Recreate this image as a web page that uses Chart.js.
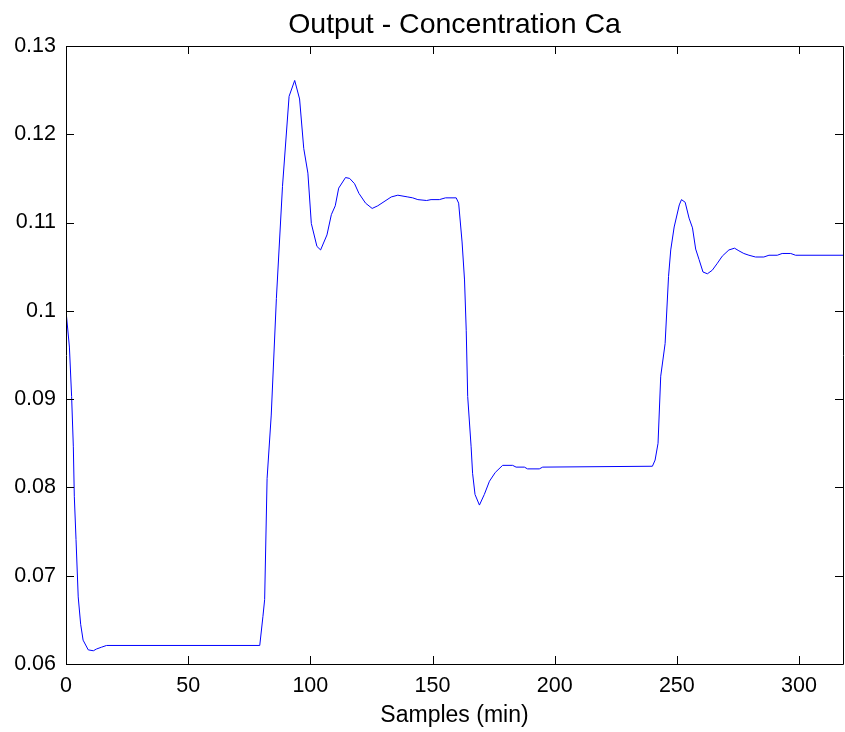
<!DOCTYPE html>
<html>
<head>
<meta charset="utf-8">
<title>Output - Concentration Ca</title>
<script src="https://cdn.jsdelivr.net/npm/chart.js@4/dist/chart.umd.min.js"></script>
<style>
  html, body { margin: 0; padding: 0; background: #fff; }
  #wrap { width: 845px; height: 732px; }
</style>
</head>
<body>
<div id="wrap"><canvas id="ca-chart" width="845" height="732"></canvas></div>
<script>
// ------------------------------------------------------------
// Data
// ------------------------------------------------------------
const chartTitle = "Output - Concentration Ca";
const sampleTimes = [
  0, 1.4, 2.3, 3.0, 3.4, 4.1, 5.0, 6.0, 7.0, 9.1, 11.2, 12.5, 14.5, 16.6,
  79.3, 80.6, 81.3, 82.3, 84.0, 86.1, 88.6, 91.3, 93.6, 95.6, 97.3, 99.0,
  100.4, 102.7, 104.2, 106.8, 108.6, 110.2, 111.6, 114.4, 116.1, 118.1, 119.9,
  122.6, 125.3, 127.6, 133.1, 135.8, 139.9, 141.9, 144.0, 147.6, 149.4, 152.8,
  155.3, 159.7, 160.7, 162.1, 163.1, 163.8, 164.4, 165.8, 166.4, 167.4, 169.2,
  171.2, 173.3, 175.7, 178.7, 182.8, 184.2, 187.6, 188.9, 193.7, 195.1,
  240.0, 241.1, 242.3, 243.4, 245.2, 246.6, 247.5, 248.9, 251.0, 251.9, 253.4,
  255.0, 256.4, 257.7, 259.1, 260.7, 262.5, 264.5, 266.6, 268.6, 271.3, 273.6,
  275.4, 277.4, 279.5, 282.2, 285.6, 287.7, 291.1, 293.1, 296.6, 298.6, 318
];
const concentrationCa = [
  0.1000, 0.0959, 0.0903, 0.0846, 0.0790, 0.0741, 0.0676, 0.0645, 0.0627, 0.0616, 0.0615, 0.0617, 0.0619, 0.0621,
  0.0621, 0.0654, 0.0673, 0.0810, 0.0882, 0.1014, 0.1141, 0.1243, 0.1261, 0.1240, 0.1184, 0.1156,
  0.1099, 0.1073, 0.1069, 0.1086, 0.1109, 0.1119, 0.1139, 0.1151, 0.1150, 0.1144, 0.1133,
  0.1122, 0.1116, 0.1119, 0.1129, 0.1131, 0.1129, 0.1128, 0.1126, 0.1125, 0.1126, 0.1126,
  0.1128, 0.1128, 0.1122, 0.1078, 0.1035, 0.0978, 0.0903, 0.0846, 0.0816, 0.0792, 0.0780,
  0.0792, 0.0807, 0.0817, 0.0825, 0.0825, 0.0823, 0.0823, 0.0821, 0.0821, 0.0823,
  0.0824, 0.0831, 0.0850, 0.0926, 0.0963, 0.1039, 0.1069, 0.1095, 0.1120, 0.1126, 0.1123,
  0.1105, 0.1094, 0.1070, 0.1058, 0.1044, 0.1042, 0.1046, 0.1054, 0.1062, 0.1069, 0.1071,
  0.1068, 0.1065, 0.1063, 0.1061, 0.1061, 0.1063, 0.1063, 0.1065, 0.1065, 0.1063, 0.1063
];
const xTicks = [0, 50, 100, 150, 200, 250, 300];
const yTicks = [0.06, 0.07, 0.08, 0.09, 0.1, 0.11, 0.12, 0.13];

const FONT = "'Liberation Sans', Arial, Helvetica, sans-serif";

// ------------------------------------------------------------
// MATLAB-like box with inward ticks, title centred on the axes
// ------------------------------------------------------------
const boxAxes = {
  id: "boxAxes",
  afterDatasetsDraw(chart) {
    const { ctx, chartArea: a, scales } = chart;
    const len = 8;
    ctx.save();
    ctx.strokeStyle = "#000";
    ctx.lineWidth = 1;
    ctx.beginPath();
    ctx.rect(Math.round(a.left) + 0.5, Math.round(a.top) + 0.5,
             Math.round(a.right - a.left), Math.round(a.bottom - a.top));
    xTicks.forEach(v => {
      const px = Math.round(scales.x.getPixelForValue(v)) + 0.5;
      ctx.moveTo(px, a.bottom); ctx.lineTo(px, a.bottom - len);
      ctx.moveTo(px, a.top);    ctx.lineTo(px, a.top + len);
    });
    yTicks.forEach(v => {
      const py = Math.round(scales.y.getPixelForValue(v)) + 0.5;
      ctx.moveTo(a.left, py);  ctx.lineTo(a.left + len, py);
      ctx.moveTo(a.right, py); ctx.lineTo(a.right - len, py);
    });
    ctx.stroke();

    // title
    ctx.fillStyle = "#000";
    ctx.font = "28.5px " + FONT;
    ctx.textAlign = "center";
    ctx.textBaseline = "alphabetic";
    ctx.fillText(chartTitle, (a.left + a.right) / 2, 33);
    ctx.restore();
  }
};

const points = sampleTimes.map((t, i) => ({ x: t, y: concentrationCa[i] }));

new Chart(document.getElementById("ca-chart"), {
  type: "line",
  data: {
    datasets: [{
      data: points,
      borderColor: "#0000ff",
      borderWidth: 1,
      pointRadius: 0,
      tension: 0,
      fill: false,
    }],
  },
  options: {
    responsive: false,
    animation: false,
    devicePixelRatio: 1,
    layout: { padding: { top: 46, right: 2, bottom: 0, left: 0 } },
    plugins: {
      legend: { display: false },
      tooltip: { enabled: false },
      title: { display: false },
    },
    scales: {
      x: {
        type: "linear",
        min: 0,
        max: 318,
        grid: { display: false, drawTicks: false },
        border: { display: false },
        afterBuildTicks: s => { s.ticks = xTicks.map(v => ({ value: v })); },
        afterFit: s => { s.height = 68; },
        ticks: {
          color: "#000",
          padding: 9,
          maxRotation: 0,
          font: { family: FONT, size: 21.5 },
          callback: v => String(v),
        },
        title: {
          display: true,
          text: "Samples (min)",
          color: "#000",
          font: { family: FONT, size: 23 },
          padding: { top: 0, bottom: 3 },
        },
      },
      y: {
        min: 0.06,
        max: 0.13,
        grid: { display: false, drawTicks: false },
        border: { display: false },
        afterBuildTicks: s => { s.ticks = yTicks.map(v => ({ value: v })); },
        afterFit: s => { s.width = 66; },
        ticks: {
          color: "#000",
          padding: 10,
          font: { family: FONT, size: 21.5 },
          callback: v => String(Math.round(v * 100) / 100),
        },
      },
    },
  },
  plugins: [boxAxes],
});
</script>
</body>
</html>
